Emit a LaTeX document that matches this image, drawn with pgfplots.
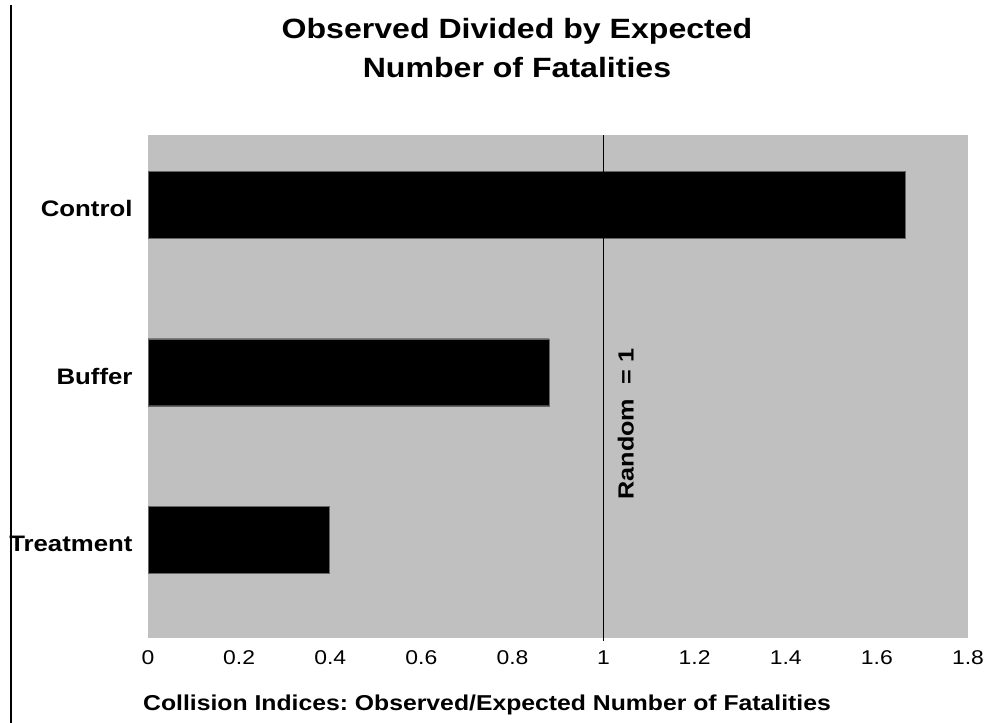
\documentclass[border=0pt]{standalone}
\usepackage{pgfplots}
\pgfplotsset{compat=1.18}
\usepackage{fontspec}
\setmainfont{Liberation Sans}[FakeStretch=1.15]
\frenchspacing
\definecolor{plotgray}{HTML}{C0C0C0}

\begin{document}
\begin{tikzpicture}
\path[use as bounding box] (0,0) rectangle (984bp,723bp);
\draw[line width=1.5bp] (11bp,0) -- (11bp,718bp);
\begin{axis}[
    at={(148bp,85bp)}, anchor=south west,
    width=820bp, height=503bp, scale only axis,
    xmin=0, xmax=1.8, ymin=-0.585, ymax=2.415,
    xtick={0,0.2,0.4,0.6,0.8,1,1.2,1.4,1.6,1.8},
    ytick={0,1,2}, yticklabels={Treatment,Buffer,Control},
    axis background/.style={fill=plotgray},
    axis line style={draw=none},
    major tick length=0pt,
    /pgf/number format/assume math mode=true,
    xticklabel style={font=\fontsize{20}{22}\selectfont, anchor=base, yshift=-27bp},
    yticklabel style={font=\bfseries\fontsize{22.5}{26}\selectfont, xshift=-12bp, yshift=-4bp},
    clip=false,
]
\addplot[xbar, bar width=67bp, fill=black, draw=black!60]
    coordinates {(0.397,0) (0.880,1) (1.662,2)};
\addplot[black, line width=1bp] coordinates {(1,-0.6) (1,2.415)};
\node[rotate=90, font=\bfseries\fontsize{22}{26}\selectfont]
    at (axis cs:1.049,0.69) {Random\ \ = 1};
\end{axis}
\node[font=\bfseries\fontsize{28}{40}\selectfont, align=center]
    at (517bp,675bp) {Observed Divided by Expected\\Number of Fatalities};
\node[font=\bfseries\fontsize{21.6}{24}\selectfont]
    at (487bp,18bp) {Collision Indices: Observed/Expected Number of Fatalities};
\end{tikzpicture}
\end{document}
